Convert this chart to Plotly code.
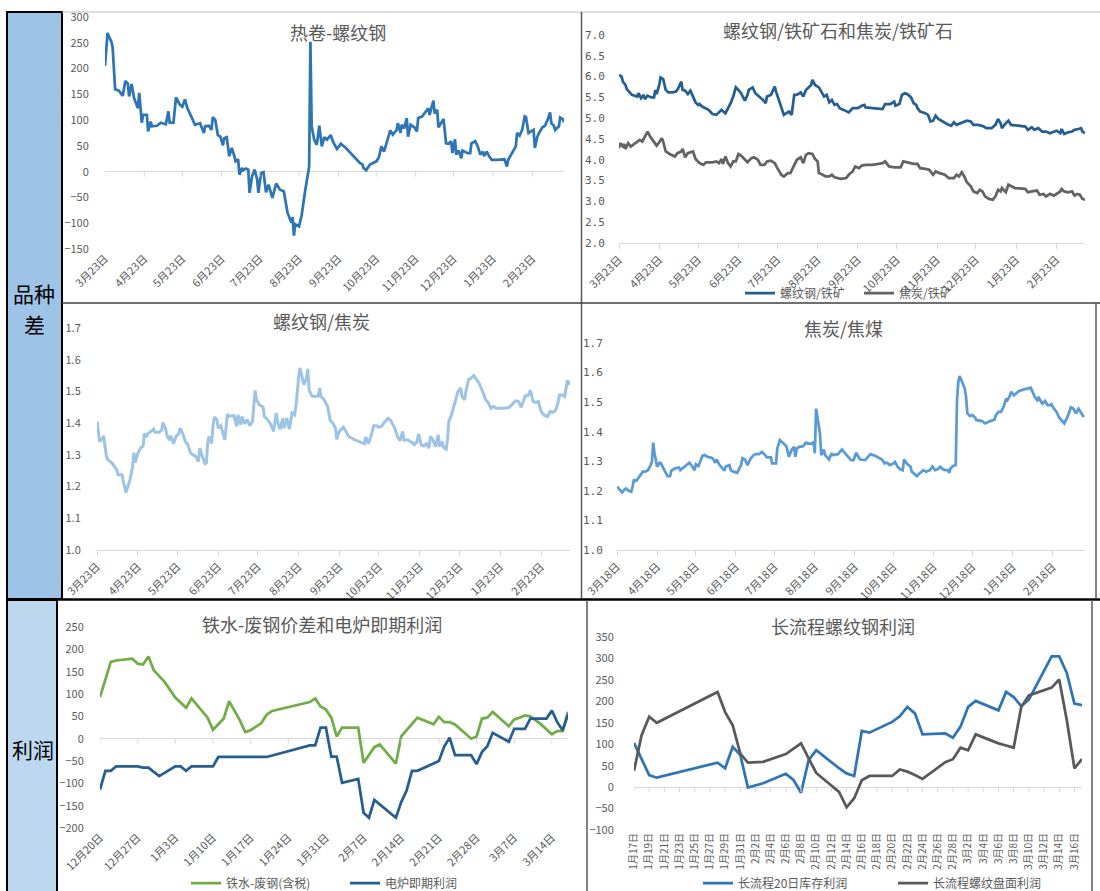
import plotly.graph_objects as go
import pandas as pd

# ======================= DATA =======================
# 热卷-螺纹钢
tl_dates = ["2021-03-23","2021-03-25","2021-03-28","2021-03-29","2021-03-31","2021-04-03","2021-04-06","2021-04-08","2021-04-10","2021-04-11",
            "2021-04-13","2021-04-15","2021-04-18","2021-04-19","2021-04-21","2021-04-22","2021-04-25","2021-04-26","2021-04-28","2021-04-29",
            "2021-05-03","2021-05-06","2021-05-10","2021-05-12","2021-05-13","2021-05-16","2021-05-18","2021-05-21","2021-05-23","2021-05-25",
            "2021-05-27","2021-05-30","2021-06-02","2021-06-06","2021-06-09","2021-06-10","2021-06-13","2021-06-15","2021-06-16","2021-06-18",
            "2021-06-20","2021-06-22","2021-06-24","2021-06-25","2021-06-27","2021-06-29","2021-07-01","2021-07-03","2021-07-04","2021-07-06",
            "2021-07-07","2021-07-09","2021-07-10","2021-07-12","2021-07-14","2021-07-15","2021-07-17","2021-07-19","2021-07-21","2021-07-22",
            "2021-07-24","2021-07-26","2021-07-28","2021-07-30","2021-08-02","2021-08-05","2021-08-08","2021-08-11","2021-08-14","2021-08-17",
            "2021-08-18","2021-08-19","2021-08-20","2021-08-23","2021-08-25","2021-08-28","2021-08-30","2021-08-31","2021-09-01","2021-09-02",
            "2021-09-04","2021-09-06","2021-09-08","2021-09-10","2021-09-12","2021-09-14","2021-09-17","2021-09-19","2021-09-22","2021-09-25",
            "2021-09-29","2021-10-05","2021-10-10","2021-10-12","2021-10-13","2021-10-15","2021-10-18","2021-10-23","2021-10-25","2021-10-27",
            "2021-10-29","2021-10-31","2021-11-03","2021-11-05","2021-11-08","2021-11-09","2021-11-11","2021-11-12","2021-11-14","2021-11-16",
            "2021-11-17","2021-11-19","2021-11-22","2021-11-24","2021-11-25","2021-11-28","2021-11-30","2021-12-03","2021-12-04","2021-12-06",
            "2021-12-07","2021-12-08","2021-12-10","2021-12-11","2021-12-13","2021-12-15","2021-12-17","2021-12-19","2021-12-21","2021-12-22",
            "2021-12-24","2021-12-25","2021-12-27","2021-12-29","2021-12-30","2022-01-03","2022-01-05","2022-01-06","2022-01-09","2022-01-11",
            "2022-01-13","2022-01-15","2022-01-16","2022-01-18","2022-01-20","2022-01-22","2022-01-26","2022-02-01","2022-02-03","2022-02-04",
            "2022-02-07","2022-02-10","2022-02-11","2022-02-13","2022-02-15","2022-02-17","2022-02-18","2022-02-20","2022-02-22","2022-02-24",
            "2022-02-25","2022-02-27","2022-03-01","2022-03-03","2022-03-05","2022-03-07","2022-03-09","2022-03-10","2022-03-12","2022-03-13",
            "2022-03-16","2022-03-17","2022-03-19","2022-03-20"]
tl_vals = [205,269,252,242,160,157,147,176,171,146,
           170,142,123,153,95,110,110,78,97,88,
           89,95,92,117,95,95,144,130,126,140,
           123,107,91,94,75,88,89,81,106,100,
           71,68,51,65,67,30,46,30,20,24,
           -6,7,3,6,4,-41,-9,4,-15,-41,
           -3,-1,-40,-25,-51,-23,-35,-38,-80,-99,
           -88,-124,-102,-106,-86,-35,-1,10,252,88,
           62,52,89,49,67,62,71,57,44,54,
           46,30,17,14,7,3,14,20,28,49,
           39,55,80,72,81,94,75,91,84,104,
           68,91,86,78,104,107,113,123,110,129,
           138,113,120,86,94,102,55,54,59,36,
           63,33,41,26,41,36,36,55,59,49,
           33,39,30,39,30,23,23,24,10,23,
           36,49,75,70,81,107,106,75,78,81,
           46,68,78,86,89,100,115,94,89,81,
           88,105,102,96]

# 螺纹钢/铁矿
tr_rb_dates = ["2021-03-23","2021-03-25","2021-03-26","2021-03-28","2021-03-29","2021-03-31","2021-04-02","2021-04-06","2021-04-07","2021-04-09",
               "2021-04-11","2021-04-12","2021-04-14","2021-04-17","2021-04-19","2021-04-20","2021-04-21","2021-04-23","2021-04-24","2021-04-26",
               "2021-04-28","2021-04-30","2021-05-03","2021-05-06","2021-05-08","2021-05-10","2021-05-11","2021-05-13","2021-05-15","2021-05-17",
               "2021-05-19","2021-05-21","2021-05-23","2021-05-24","2021-05-26","2021-05-28","2021-05-31","2021-06-03","2021-06-06","2021-06-08",
               "2021-06-10","2021-06-13","2021-06-15","2021-06-17","2021-06-19","2021-06-21","2021-06-23","2021-06-25","2021-06-28","2021-06-30",
               "2021-07-01","2021-07-04","2021-07-06","2021-07-09","2021-07-12","2021-07-14","2021-07-15","2021-07-18","2021-07-21","2021-07-22",
               "2021-07-24","2021-07-26","2021-07-28","2021-07-30","2021-08-01","2021-08-03","2021-08-05","2021-08-07","2021-08-10","2021-08-12",
               "2021-08-14","2021-08-16","2021-08-18","2021-08-19","2021-08-21","2021-08-24","2021-08-26","2021-08-28","2021-08-30","2021-09-01",
               "2021-09-03","2021-09-05","2021-09-07","2021-09-09","2021-09-12","2021-09-16","2021-09-19","2021-09-23","2021-09-26","2021-09-28",
               "2021-09-29","2021-10-04","2021-10-12","2021-10-14","2021-10-18","2021-10-21","2021-10-22","2021-10-25","2021-10-27","2021-10-29",
               "2021-10-31","2021-11-03","2021-11-05","2021-11-07","2021-11-08","2021-11-10","2021-11-14","2021-11-16","2021-11-18","2021-11-20",
               "2021-11-22","2021-11-24","2021-11-27","2021-11-29","2021-12-02","2021-12-04","2021-12-06","2021-12-08","2021-12-11","2021-12-13",
               "2021-12-16","2021-12-19","2021-12-21","2021-12-25","2021-12-29","2021-12-31","2022-01-04","2022-01-07","2022-01-09","2022-01-11",
               "2022-01-12","2022-01-15","2022-01-17","2022-01-19","2022-01-23","2022-01-30","2022-02-01","2022-02-04","2022-02-06","2022-02-09",
               "2022-02-12","2022-02-15","2022-02-18","2022-02-21","2022-02-23","2022-02-26","2022-02-27","2022-03-01","2022-03-04","2022-03-07",
               "2022-03-09","2022-03-12","2022-03-14","2022-03-15","2022-03-17"]
tr_rb_vals = [6.04,6.00,5.88,5.80,5.70,5.62,5.56,5.52,5.60,5.48,
              5.56,5.46,5.54,5.50,5.50,5.68,5.58,5.80,5.98,5.94,
              5.68,5.62,5.62,5.64,5.74,5.88,5.68,5.66,5.58,5.66,
              5.52,5.38,5.32,5.34,5.28,5.24,5.20,5.10,5.08,5.14,
              5.20,5.12,5.24,5.36,5.52,5.74,5.68,5.60,5.42,5.56,
              5.68,5.74,5.60,5.52,5.44,5.36,5.52,5.56,5.76,5.64,
              5.44,5.24,5.08,5.12,5.16,5.08,5.56,5.56,5.62,5.52,
              5.68,5.74,5.80,5.92,5.80,5.74,5.64,5.52,5.56,5.38,
              5.44,5.32,5.34,5.24,5.20,5.14,5.24,5.24,5.30,5.32,
              5.26,5.24,5.22,5.34,5.34,5.40,5.30,5.34,5.56,5.60,
              5.58,5.50,5.36,5.32,5.24,5.16,5.12,5.08,4.92,4.94,
              5.06,4.98,4.92,4.90,4.84,4.82,4.90,4.84,4.88,4.90,
              4.94,4.92,4.84,4.84,4.80,4.76,4.76,4.84,4.98,4.88,
              4.76,4.88,4.94,4.84,4.82,4.80,4.72,4.78,4.72,4.76,
              4.68,4.68,4.64,4.68,4.70,4.64,4.74,4.62,4.66,4.68,
              4.72,4.74,4.76,4.68,4.64]

# 焦炭/铁矿
tr_jt_dates = ["2021-03-23","2021-03-24","2021-03-26","2021-03-27","2021-03-28","2021-03-30","2021-04-01","2021-04-03","2021-04-06","2021-04-08",
               "2021-04-10","2021-04-12","2021-04-14","2021-04-16","2021-04-19","2021-04-21","2021-04-23","2021-04-25","2021-04-26","2021-04-28",
               "2021-05-01","2021-05-05","2021-05-07","2021-05-10","2021-05-11","2021-05-13","2021-05-15","2021-05-18","2021-05-19","2021-05-21",
               "2021-05-24","2021-05-27","2021-05-29","2021-06-01","2021-06-03","2021-06-06","2021-06-08","2021-06-10","2021-06-11","2021-06-13",
               "2021-06-15","2021-06-17","2021-06-19","2021-06-21","2021-06-23","2021-06-25","2021-06-28","2021-06-30","2021-07-03","2021-07-05",
               "2021-07-08","2021-07-10","2021-07-13","2021-07-15","2021-07-18","2021-07-21","2021-07-23","2021-07-26","2021-07-28","2021-07-31",
               "2021-08-02","2021-08-05","2021-08-07","2021-08-10","2021-08-12","2021-08-14","2021-08-16","2021-08-19","2021-08-21","2021-08-23",
               "2021-08-24","2021-08-27","2021-08-29","2021-09-01","2021-09-03","2021-09-05","2021-09-10","2021-09-14","2021-09-16","2021-09-19",
               "2021-09-21","2021-09-24","2021-09-26","2021-09-29","2021-10-04","2021-10-09","2021-10-12","2021-10-14","2021-10-17","2021-10-21",
               "2021-10-26","2021-10-28","2021-10-31","2021-11-02","2021-11-05","2021-11-08","2021-11-10","2021-11-14","2021-11-17","2021-11-20",
               "2021-11-22","2021-11-25","2021-11-29","2021-12-02","2021-12-06","2021-12-08","2021-12-10","2021-12-12","2021-12-14","2021-12-16",
               "2021-12-19","2021-12-21","2021-12-24","2021-12-26","2021-12-28","2021-12-30","2022-01-02","2022-01-05","2022-01-07","2022-01-09",
               "2022-01-11","2022-01-12","2022-01-15","2022-01-17","2022-01-19","2022-01-22","2022-01-30","2022-02-01","2022-02-04","2022-02-08",
               "2022-02-10","2022-02-13","2022-02-15","2022-02-18","2022-02-21","2022-02-23","2022-02-26","2022-02-27","2022-03-01","2022-03-04",
               "2022-03-07","2022-03-09","2022-03-11","2022-03-13","2022-03-15","2022-03-17"]
tr_jt_vals = [4.28,4.40,4.32,4.38,4.26,4.40,4.32,4.36,4.42,4.48,
              4.44,4.56,4.68,4.56,4.42,4.34,4.42,4.52,4.44,4.20,
              4.14,4.08,4.16,4.20,4.26,4.06,4.16,4.18,4.20,4.02,
              3.92,3.88,3.94,3.94,3.94,3.96,3.92,4.02,3.90,4.08,
              3.92,3.84,3.96,3.96,4.14,4.10,4.00,3.94,4.04,4.06,
              4.00,3.88,3.88,3.96,3.98,3.92,3.80,3.64,3.60,3.68,
              3.68,3.88,4.00,4.06,3.92,4.12,4.16,4.14,4.02,3.96,
              3.68,3.64,3.60,3.60,3.64,3.58,3.54,3.56,3.64,3.72,
              3.84,3.80,3.86,3.88,3.88,3.90,3.92,3.96,3.84,3.82,
              3.82,3.96,3.94,3.92,3.90,3.90,3.80,3.78,3.76,3.64,
              3.72,3.68,3.64,3.56,3.56,3.64,3.60,3.70,3.60,3.46,
              3.36,3.24,3.20,3.28,3.24,3.12,3.06,3.04,3.12,3.28,
              3.24,3.32,3.22,3.40,3.36,3.32,3.30,3.22,3.24,3.26,
              3.16,3.18,3.12,3.18,3.14,3.18,3.24,3.30,3.24,3.22,
              3.24,3.14,3.18,3.16,3.06,3.04]

# 螺纹钢/焦炭
ml_dates = ["2021-03-23","2021-03-25","2021-03-27","2021-03-28","2021-03-30","2021-03-31","2021-04-03","2021-04-05","2021-04-07","2021-04-08",
            "2021-04-11","2021-04-12","2021-04-14","2021-04-17","2021-04-19","2021-04-20","2021-04-21","2021-04-23","2021-04-25","2021-04-27",
            "2021-04-28","2021-04-29","2021-05-01","2021-05-04","2021-05-05","2021-05-06","2021-05-09","2021-05-11","2021-05-12","2021-05-14",
            "2021-05-15","2021-05-17","2021-05-18","2021-05-20","2021-05-22","2021-05-24","2021-05-25","2021-05-27","2021-05-29","2021-05-31",
            "2021-06-02","2021-06-04","2021-06-06","2021-06-08","2021-06-09","2021-06-11","2021-06-13","2021-06-14","2021-06-15","2021-06-16",
            "2021-06-18","2021-06-19","2021-06-20","2021-06-22","2021-06-23","2021-06-25","2021-06-26","2021-06-28","2021-06-30","2021-07-01",
            "2021-07-03","2021-07-05","2021-07-07","2021-07-08","2021-07-10","2021-07-11","2021-07-13","2021-07-15","2021-07-17","2021-07-19",
            "2021-07-21","2021-07-22","2021-07-24","2021-07-26","2021-07-27","2021-07-28","2021-07-30","2021-08-02","2021-08-04","2021-08-06",
            "2021-08-07","2021-08-09","2021-08-11","2021-08-12","2021-08-14","2021-08-16","2021-08-18","2021-08-20","2021-08-21","2021-08-23",
            "2021-08-24","2021-08-26","2021-08-27","2021-08-29","2021-08-30","2021-08-31","2021-09-02","2021-09-04","2021-09-07","2021-09-08",
            "2021-09-09","2021-09-11","2021-09-14","2021-09-16","2021-09-18","2021-09-20","2021-09-21","2021-09-23","2021-09-26","2021-09-28",
            "2021-09-30","2021-10-04","2021-10-08","2021-10-12","2021-10-13","2021-10-15","2021-10-17","2021-10-19","2021-10-21","2021-10-23",
            "2021-10-25","2021-10-27","2021-10-30","2021-11-01","2021-11-04","2021-11-06","2021-11-08","2021-11-10","2021-11-11","2021-11-14",
            "2021-11-17","2021-11-19","2021-11-21","2021-11-22","2021-11-24","2021-11-26","2021-11-28","2021-11-30","2021-12-01","2021-12-03",
            "2021-12-05","2021-12-07","2021-12-08","2021-12-10","2021-12-11","2021-12-13","2021-12-14","2021-12-15","2021-12-17","2021-12-19",
            "2021-12-21","2021-12-22","2021-12-24","2021-12-25","2021-12-27","2021-12-28","2021-12-30","2022-01-01","2022-01-03","2022-01-05",
            "2022-01-07","2022-01-09","2022-01-10","2022-01-12","2022-01-14","2022-01-16","2022-01-18","2022-01-20","2022-01-26","2022-01-30",
            "2022-02-02","2022-02-04","2022-02-06","2022-02-08","2022-02-11","2022-02-13","2022-02-15","2022-02-17","2022-02-19","2022-02-21",
            "2022-02-23","2022-02-25","2022-02-28","2022-03-02","2022-03-04","2022-03-06","2022-03-08","2022-03-09","2022-03-11","2022-03-13",
            "2022-03-15","2022-03-16","2022-03-17"]
ml_vals = [1.405,1.342,1.350,1.360,1.300,1.286,1.276,1.265,1.253,1.237,
           1.237,1.216,1.181,1.221,1.263,1.307,1.276,1.305,1.321,1.328,
           1.368,1.356,1.368,1.377,1.381,1.371,1.371,1.377,1.402,1.384,
           1.363,1.347,1.360,1.335,1.358,1.366,1.384,1.368,1.342,1.332,
           1.305,1.300,1.295,1.279,1.321,1.295,1.272,1.274,1.337,1.358,
           1.335,1.390,1.419,1.411,1.384,1.392,1.374,1.347,1.429,1.421,
           1.423,1.423,1.390,1.426,1.395,1.421,1.398,1.411,1.392,1.405,
           1.503,1.476,1.458,1.453,1.451,1.421,1.413,1.395,1.374,1.432,
           1.405,1.381,1.416,1.384,1.416,1.381,1.432,1.426,1.455,1.542,
           1.574,1.539,1.521,1.542,1.571,1.505,1.486,1.484,1.486,1.511,
           1.484,1.476,1.453,1.408,1.400,1.384,1.349,1.374,1.387,1.374,
           1.358,1.349,1.342,1.335,1.356,1.335,1.360,1.392,1.392,1.387,
           1.390,1.402,1.415,1.408,1.384,1.358,1.345,1.374,1.347,1.347,
           1.339,1.332,1.342,1.366,1.332,1.328,1.335,1.321,1.358,1.347,
           1.326,1.363,1.326,1.342,1.324,1.318,1.347,1.405,1.426,1.455,
           1.484,1.500,1.511,1.484,1.474,1.500,1.537,1.542,1.550,1.539,
           1.526,1.507,1.495,1.474,1.463,1.447,1.453,1.447,1.447,1.450,
           1.463,1.471,1.468,1.450,1.486,1.486,1.503,1.468,1.465,1.468,
           1.437,1.426,1.421,1.437,1.434,1.440,1.465,1.489,1.489,1.484,
           1.535,1.521,1.532]

# 焦炭/焦煤
mr_dates = ["2021-03-18","2021-03-20","2021-03-22","2021-03-24","2021-03-25","2021-03-27","2021-03-29","2021-03-30","2021-03-31","2021-04-02",
            "2021-04-04","2021-04-07","2021-04-09","2021-04-11","2021-04-13","2021-04-14","2021-04-15","2021-04-16","2021-04-18","2021-04-20",
            "2021-04-21","2021-04-23","2021-04-24","2021-04-26","2021-04-28","2021-04-29","2021-05-02","2021-05-05","2021-05-06","2021-05-09",
            "2021-05-11","2021-05-13","2021-05-15","2021-05-17","2021-05-18","2021-05-20","2021-05-22","2021-05-23","2021-05-25","2021-05-27",
            "2021-05-29","2021-05-31","2021-06-02","2021-06-03","2021-06-05","2021-06-07","2021-06-09","2021-06-10","2021-06-13","2021-06-14",
            "2021-06-16","2021-06-19","2021-06-21","2021-06-22","2021-06-23","2021-06-25","2021-06-27","2021-06-29","2021-07-01","2021-07-03",
            "2021-07-06","2021-07-08","2021-07-10","2021-07-12","2021-07-15","2021-07-16","2021-07-19","2021-07-20","2021-07-22","2021-07-24",
            "2021-07-27","2021-07-29","2021-07-31","2021-08-02","2021-08-03","2021-08-04","2021-08-06","2021-08-09","2021-08-11","2021-08-13",
            "2021-08-16","2021-08-17","2021-08-18","2021-08-19","2021-08-20","2021-08-22","2021-08-23","2021-08-25","2021-08-26","2021-08-29",
            "2021-08-31","2021-09-01","2021-09-05","2021-09-08","2021-09-10","2021-09-13","2021-09-15","2021-09-17","2021-09-19","2021-09-22",
            "2021-09-26","2021-09-30","2021-10-04","2021-10-09","2021-10-11","2021-10-13","2021-10-15","2021-10-18","2021-10-19","2021-10-21",
            "2021-10-23","2021-10-25","2021-10-26","2021-10-28","2021-10-31","2021-11-01","2021-11-03","2021-11-05","2021-11-07","2021-11-10",
            "2021-11-12","2021-11-15","2021-11-17","2021-11-19","2021-11-21","2021-11-23","2021-11-25","2021-11-27","2021-11-29","2021-11-30",
            "2021-12-01","2021-12-03","2021-12-05","2021-12-06","2021-12-07","2021-12-08","2021-12-10","2021-12-12","2021-12-13","2021-12-14",
            "2021-12-16","2021-12-18","2021-12-20","2021-12-21","2021-12-25","2021-12-28","2021-12-30","2022-01-02","2022-01-04","2022-01-05",
            "2022-01-07","2022-01-09","2022-01-11","2022-01-13","2022-01-14","2022-01-16","2022-01-17","2022-01-19","2022-01-21","2022-01-23",
            "2022-01-27","2022-01-31","2022-02-01","2022-02-03","2022-02-04","2022-02-06","2022-02-07","2022-02-09","2022-02-10","2022-02-12",
            "2022-02-14","2022-02-16","2022-02-17","2022-02-19","2022-02-21","2022-02-23","2022-02-25","2022-02-27","2022-03-02","2022-03-04",
            "2022-03-06","2022-03-08","2022-03-10","2022-03-12","2022-03-14"]
mr_vals = [1.214,1.203,1.195,1.205,1.208,1.200,1.197,1.214,1.236,1.234,
           1.248,1.265,1.265,1.270,1.287,1.298,1.363,1.327,1.282,1.295,
           1.293,1.276,1.268,1.250,1.250,1.268,1.276,1.279,1.270,1.282,
           1.290,1.295,1.284,1.270,1.290,1.284,1.306,1.318,1.321,1.315,
           1.313,1.310,1.295,1.306,1.290,1.279,1.268,1.282,1.287,1.270,
           1.265,1.261,1.282,1.287,1.310,1.306,1.287,1.306,1.318,1.324,
           1.324,1.332,1.324,1.313,1.313,1.293,1.293,1.343,1.372,1.363,
           1.351,1.315,1.338,1.349,1.315,1.343,1.349,1.351,1.363,1.360,
           1.360,1.366,1.327,1.478,1.445,1.394,1.321,1.340,1.321,1.306,
           1.327,1.321,1.324,1.340,1.329,1.315,1.304,1.304,1.329,1.306,
           1.304,1.324,1.318,1.306,1.293,1.295,1.287,1.293,1.298,1.282,
           1.273,1.270,1.306,1.293,1.282,1.265,1.259,1.250,1.259,1.270,
           1.265,1.270,1.282,1.270,1.273,1.282,1.273,1.270,1.270,1.261,
           1.276,1.284,1.287,1.507,1.568,1.588,1.568,1.546,1.518,1.462,
           1.453,1.456,1.448,1.439,1.437,1.428,1.433,1.437,1.441,1.456,
           1.467,1.467,1.484,1.512,1.507,1.523,1.535,1.523,1.531,1.538,
           1.543,1.549,1.549,1.529,1.518,1.507,1.518,1.501,1.495,1.504,
           1.490,1.490,1.493,1.478,1.467,1.448,1.437,1.428,1.456,1.482,
           1.478,1.462,1.478,1.462,1.450]

# 铁水-废钢价差和电炉即期利润
bl_hm_dates = ["2021-12-20","2021-12-22","2021-12-23","2021-12-26","2021-12-27","2021-12-28","2021-12-29","2021-12-30","2022-01-01","2022-01-03",
               "2022-01-05","2022-01-06","2022-01-09","2022-01-10","2022-01-12","2022-01-13","2022-01-15","2022-01-16","2022-01-17","2022-01-19",
               "2022-01-20","2022-01-21","2022-01-28","2022-01-29","2022-01-30","2022-01-31","2022-02-01","2022-02-02","2022-02-03","2022-02-06",
               "2022-02-07","2022-02-08","2022-02-09","2022-02-10","2022-02-13","2022-02-14","2022-02-17","2022-02-20","2022-02-21","2022-02-22",
               "2022-02-23","2022-02-24","2022-02-26","2022-02-27","2022-02-28","2022-03-01","2022-03-02","2022-03-03","2022-03-06","2022-03-07",
               "2022-03-08","2022-03-09","2022-03-10","2022-03-12","2022-03-14","2022-03-15","2022-03-16","2022-03-17"]
bl_hm_vals = [93,172,175,179,168,166,184,153,127,92,
              69,90,47,20,45,84,41,15,19,35,
              54,62,82,90,72,65,47,5,25,25,
              -54,-37,-19,-13,-56,5,47,32,49,37,
              37,32,11,0,5,45,47,60,28,43,
              47,52,50,32,10,17,17,60]
bl_eaf_dates = ["2021-12-20","2021-12-21","2021-12-22","2021-12-23","2021-12-27","2021-12-28","2021-12-29","2021-12-31","2022-01-03","2022-01-04",
                "2022-01-05","2022-01-06","2022-01-10","2022-01-11","2022-01-20","2022-01-28","2022-01-29","2022-01-30","2022-01-31","2022-02-01",
                "2022-02-02","2022-02-03","2022-02-06","2022-02-07","2022-02-08","2022-02-09","2022-02-13","2022-02-14","2022-02-15","2022-02-16",
                "2022-02-17","2022-02-21","2022-02-22","2022-02-23","2022-02-24","2022-02-27","2022-02-28","2022-03-01","2022-03-02","2022-03-03",
                "2022-03-06","2022-03-07","2022-03-09","2022-03-10","2022-03-13","2022-03-14","2022-03-15","2022-03-16","2022-03-17"]
bl_eaf_vals = [-114,-72,-72,-62,-62,-65,-65,-84,-62,-62,
               -72,-62,-62,-41,-41,-15,-15,25,25,-40,
               -40,-99,-90,-166,-177,-137,-177,-142,-116,-72,
               -72,-50,-17,2,-37,-37,-57,-30,-17,13,
               -7,22,22,45,45,63,37,19,54]

# 长流程螺纹钢利润
br_dates = ["2022-01-17","2022-01-18","2022-01-19","2022-01-20","2022-01-28","2022-01-29","2022-01-30","2022-01-31","2022-02-01","2022-02-03",
            "2022-02-06","2022-02-07","2022-02-08","2022-02-09","2022-02-10","2022-02-13","2022-02-14","2022-02-15","2022-02-16","2022-02-17",
            "2022-02-20","2022-02-21","2022-02-22","2022-02-23","2022-02-24","2022-02-27","2022-02-28","2022-03-01","2022-03-02","2022-03-03",
            "2022-03-06","2022-03-07","2022-03-08","2022-03-09","2022-03-10","2022-03-13","2022-03-14","2022-03-15","2022-03-16","2022-03-17"]
br_inv_vals = [103,66,28,22,57,44,94,75,-1,9,
               31,17,-13,63,86,44,32,26,131,127,
               152,165,187,172,123,125,115,141,187,201,
               179,222,210,189,204,305,305,266,195,191]
br_fut_vals = [38,121,164,150,222,175,144,78,57,59,
               77,90,102,67,33,-11,-47,-26,16,26,
               26,41,36,28,19,58,65,92,86,123,
               102,97,92,187,214,232,251,156,44,65]

# tick labels
month23_vals = ["2021-03-23","2021-04-23","2021-05-23","2021-06-23","2021-07-23","2021-08-23",
                "2021-09-23","2021-10-23","2021-11-23","2021-12-23","2022-01-23","2022-02-23"]
month23_text = ["3月23日","4月23日","5月23日","6月23日","7月23日","8月23日",
                "9月23日","10月23日","11月23日","12月23日","1月23日","2月23日"]
month18_vals = ["2021-03-18","2021-04-18","2021-05-18","2021-06-18","2021-07-18","2021-08-18",
                "2021-09-18","2021-10-18","2021-11-18","2021-12-18","2022-01-18","2022-02-18"]
month18_text = ["3月18日","4月18日","5月18日","6月18日","7月18日","8月18日",
                "9月18日","10月18日","11月18日","12月18日","1月18日","2月18日"]
week_vals = ["2021-12-20","2021-12-27","2022-01-03","2022-01-10","2022-01-17","2022-01-24","2022-01-31",
             "2022-02-07","2022-02-14","2022-02-21","2022-02-28","2022-03-07","2022-03-14"]
week_text = ["12月20日","12月27日","1月3日","1月10日","1月17日","1月24日","1月31日",
             "2月7日","2月14日","2月21日","2月28日","3月7日","3月14日"]
br_tick_dates = pd.date_range("2022-01-17", "2022-03-16", freq="2D")
br_tick_vals = [d.strftime("%Y-%m-%d") for d in br_tick_dates]
br_tick_text = [f"{d.month}月{d.day}日" for d in br_tick_dates]

# ======================= LAYOUT =======================
W, H = 1100, 891
FONT = "Noto Sans CJK SC"
GRAY = "#595959"
AXIS = "#D9D9D9"


def fx(p):
    return p / W


def fy(p):
    return 1 - p / H


fig = go.Figure()


def add_line(x, y, n, color, name=None, legend=None, width=2.75):
    fig.add_trace(go.Scatter(
        x=x, y=y, mode="lines", name=name or "",
        line=dict(color=color, width=width),
        xaxis="x" if n == 1 else f"x{n}", yaxis="y" if n == 1 else f"y{n}",
        showlegend=legend is not None, legend=legend or "legend",
        hoverinfo="skip"))


add_line(tl_dates, tl_vals, 1, "#2E75B6")
add_line(tr_rb_dates, tr_rb_vals, 2, "#255E91", "螺纹钢/铁矿", "legend")
add_line(tr_jt_dates, tr_jt_vals, 2, "#636363", "焦炭/铁矿", "legend2")
add_line(ml_dates, ml_vals, 3, "#9DC3E6", width=3)
add_line(mr_dates, mr_vals, 4, "#5B9BD5")
add_line(bl_hm_dates, bl_hm_vals, 5, "#70AD47", "铁水-废钢(含税)", "legend3")
add_line(bl_eaf_dates, bl_eaf_vals, 5, "#255E91", "电炉即期利润", "legend4")
add_line(br_dates, br_inv_vals, 6, "#2E75B6", "长流程20日库存利润", "legend5")
add_line(br_dates, br_fut_vals, 6, "#595959", "长流程螺纹盘面利润", "legend6")

tickfont = dict(family=FONT, size=11, color=GRAY)
monofont = dict(family="DejaVu Sans Mono", size=11, color=GRAY)

panels = [
    (1, (105, 564), (249, 17), ("2021-03-23", "2022-03-20"), (-150, 300), 50, "d", month23_vals, month23_text, False, 13, tickfont, -45),
    (2, (619, 1085), (243, 35), ("2021-03-23", "2022-03-17"), (2, 7), 0.5, ".1f", month23_vals, month23_text, True, 11, monofont, -45),
    (3, (97, 570), (550, 328), ("2021-03-23", "2022-03-17"), (1, 1.7), 0.1, ".1f", month23_vals, month23_text, True, 13, tickfont, -45),
    (4, (617, 1085), (550, 343), ("2021-03-18", "2022-03-15"), (1, 1.7), 0.1, ".1f", month18_vals, month18_text, True, 11, monofont, -45),
    (5, (100, 568), (828, 627), ("2021-12-20", "2022-03-17"), (-200, 250), 50, "d", week_vals, week_text, False, 13, tickfont, -45),
    (6, (634, 1082), (830, 637), ("2022-01-17", "2022-03-17"), (-100, 350), 50, "d", br_tick_vals, br_tick_text, False, 17, tickfont, -90),
]

layout_axes = {}
shapes = []
for n, xd, yd, xr, yr, dt, fmt, xtv, xtt, bottom_line, gap, yfont, ang in panels:
    sx = "" if n == 1 else str(n)
    yvals = []
    v = yr[0]
    while v <= yr[1] + 1e-9:
        yvals.append(round(v, 4))
        v += dt
    xfont = dict(family=FONT, size=10 if n == 6 else 11, color=GRAY)
    layout_axes["xaxis" + sx] = dict(
        domain=[fx(xd[0]), fx(xd[1])], anchor="y" + sx, type="date", range=list(xr),
        showgrid=False, zeroline=False, tickmode="array", tickvals=xtv, ticktext=xtt,
        tickangle=ang, tickfont=xfont, showline=bottom_line, linecolor=AXIS, linewidth=1,
        ticks="outside" if bottom_line else "", tickcolor=AXIS, ticklen=5 if bottom_line else 4,
        automargin=False, fixedrange=True)
    layout_axes["yaxis" + sx] = dict(
        domain=[fy(yd[0]), fy(yd[1])], anchor="x" + sx, range=list(yr), showgrid=False,
        zeroline=not bottom_line, zerolinecolor=AXIS, zerolinewidth=1,
        tickmode="array", tickvals=yvals, tickformat=fmt, tickfont=yfont,
        ticks="outside", ticklen=gap, tickcolor="rgba(0,0,0,0)", showline=False,
        automargin=False, fixedrange=True)
    if not bottom_line:
        for tv in xtv:
            shapes.append(dict(type="line", xref="x" + sx, yref="y" + sx, x0=tv, x1=tv,
                               ysizemode="pixel", yanchor=0, y0=0, y1=-5,
                               line=dict(color=AXIS, width=1)))


def rect(x0, y0, x1, y1, fill, color, width):
    return dict(type="rect", xref="paper", yref="paper", x0=fx(x0), x1=fx(x1), y0=fy(y1), y1=fy(y0),
                fillcolor=fill, line=dict(color=color, width=width), layer="below")


def line(x0, y0, x1, y1, color, width):
    return dict(type="line", xref="paper", yref="paper", x0=fx(x0), x1=fx(x1), y0=fy(y0), y1=fy(y1),
                line=dict(color=color, width=width))


shapes += [
    rect(7, 12, 62, 599, "#9DC3E6", "black", 2),
    rect(7, 600, 57, 892, "#BDD7EE", "black", 2),
    line(62, 12, 1100, 12, "#BFBFBF", 1),
    line(581.5, 12, 581.5, 599, "#595959", 1.5),
    line(62, 303, 1100, 303, "#404040", 1.5),
    line(7, 599.5, 1100, 599.5, "black", 2.5),
    line(587, 600, 587, 891, "#595959", 1.5),
    line(1096, 303, 1096, 599, "#595959", 1.5),
    line(1092, 600, 1092, 891, "#595959", 1.5),
]


def title(text, x, y, size=18, color=GRAY):
    return dict(text=text, xref="paper", yref="paper", x=fx(x), y=fy(y), xanchor="center",
                yanchor="middle", showarrow=False, font=dict(family=FONT, size=size, color=color))


annotations = [
    title("热卷-螺纹钢", 338, 32),
    title("螺纹钢/铁矿石和焦炭/铁矿石", 838, 30),
    title("螺纹钢/焦炭", 321, 321),
    title("焦炭/焦煤", 844, 328),
    title("铁水-废钢价差和电炉即期利润", 322, 624),
    title("长流程螺纹钢利润", 843, 626),
    title("品种", 34, 293, size=21, color="black"),
    title("差", 34, 324, size=21, color="black"),
    title("利润", 33, 749, size=21, color="black"),
]


def legend_at(xpx, ypx):
    return dict(x=fx(xpx), y=fy(ypx), xanchor="left", yanchor="middle", orientation="h",
                bgcolor="rgba(0,0,0,0)", borderwidth=0, itemwidth=30,
                font=dict(family=FONT, size=12, color=GRAY))


fig.update_layout(
    width=W, height=H, margin=dict(l=0, r=0, t=0, b=0, pad=0, autoexpand=False),
    paper_bgcolor="white", plot_bgcolor="rgba(0,0,0,0)",
    font=dict(family=FONT, color=GRAY), hovermode=False,
    shapes=shapes, annotations=annotations,
    legend=legend_at(740, 293), legend2=legend_at(859, 293),
    legend3=legend_at(186, 883), legend4=legend_at(345, 883),
    legend5=legend_at(698, 883), legend6=legend_at(893, 883),
    **layout_axes,
)

fig.write_html("out.html", config={"displayModeBar": False, "staticPlot": True},
               post_script="document.body.style.margin='0px';document.body.style.overflow='hidden';")
